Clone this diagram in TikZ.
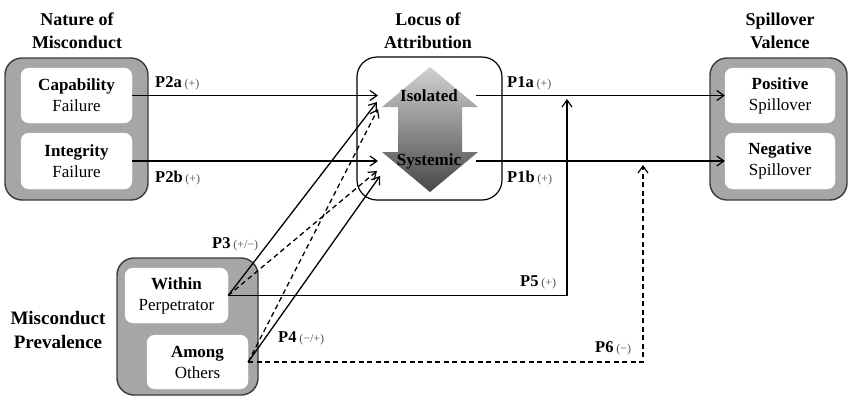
\documentclass[tikz,border=0pt]{standalone}
\usepackage{fontspec}
\setmainfont{Liberation Serif}
\usetikzlibrary{arrows.meta}
\definecolor{grpfill}{HTML}{A6A6A6}
\definecolor{grpdraw}{HTML}{3A3A3A}
\definecolor{labgray}{HTML}{555555}
\newcommand{\lab}[2]{\textbf{#1}\,{\fontsize{12}{12}\selectfont\color{labgray}#2}}
\tikzset{
  grp/.style={draw=grpdraw, fill=grpfill, line width=1.4pt, rounded corners=17pt, inner sep=0pt},
  inbox/.style={fill=white, draw=white, rounded corners=8pt, inner sep=0pt, align=center,
     font=\fontsize{17}{21}\selectfont},
  ttl/.style={align=center, font=\fontsize{18}{23.5}\selectfont\bfseries},
  conn/.style={line width=1.3pt, -{Straight Barb[length=7pt,width=10pt,line width=1.2pt]}},
  dconn/.style={conn, dash pattern=on 5pt off 3.5pt},
  plab/.style={anchor=west, inner sep=0pt, font=\fontsize{16.5}{18}\selectfont}
}
\begin{document}
\begin{tikzpicture}[x=1pt,y=-1pt]
\useasboundingbox (0,0) rectangle (848,397);
% titles
\node[ttl] (t1) at (77,31) {Nature of\\Misconduct};
\node[ttl] (t2) at (428,31) {Locus of\\Attribution};
\node[ttl] (t3) at (780,31) {Spillover\\Valence};
\node[ttl, font=\fontsize{19}{24}\selectfont\bfseries] (t4) at (58,330) {Misconduct\\Prevalence};
% groups
\node[grp, minimum width=143pt, minimum height=142pt] (nat) at (76.5,129) {};
\node[inbox, minimum width=111pt, minimum height=55pt] (cap) at (76.5,95.5) {\textbf{Capability}\\Failure};
\node[inbox, minimum width=111pt, minimum height=56pt] (int) at (76.5,161) {\textbf{Integrity}\\Failure};
\node[grp, minimum width=137pt, minimum height=142pt] (val) at (778.5,129) {};
\node[inbox, minimum width=110pt, minimum height=55pt] (pos) at (780,95.5) {\textbf{Positive}\\Spillover};
\node[inbox, minimum width=110pt, minimum height=56pt] (neg) at (780,161) {\textbf{Negative}\\Spillover};
\node[grp, minimum width=141pt, minimum height=137pt] (prev) at (187.5,326.5) {};
\node[inbox, minimum width=103pt, minimum height=55pt] (within) at (176.5,295.5) {\textbf{Within}\\Perpetrator};
\node[inbox, minimum width=101pt, minimum height=54pt] (among) at (197.5,362) {\textbf{Among}\\Others};
% locus box
\node[draw=black, fill=white, line width=1.2pt, rounded corners=20pt, minimum width=145pt, minimum height=143pt, inner sep=0pt] (loc) at (429.5,128.5) {};
\shade[top color=black!18, bottom color=black!72]
  (430,67) -- (478,107) -- (462,107) -- (462,152) -- (478,152) -- (430,192)
  -- (382,152) -- (398,152) -- (398,107) -- (382,107) -- cycle;
\node[font=\fontsize{17}{20}\selectfont\bfseries, inner sep=0pt] (iso) at (429,96) {Isolated};
\node[font=\fontsize{17}{20}\selectfont\bfseries, inner sep=0pt] (sys) at (429,161) {Systemic};
% coordinates
\coordinate (isoA) at (378,95.5);
\coordinate (sysA) at (378,161);
\coordinate (isoB) at (377,102);
\coordinate (sysB) at (377,171);
\coordinate (isoC) at (378,109);
\coordinate (sysC) at (380,176);
\coordinate (isoOut) at (476,95.5);
\coordinate (sysOut) at (476,161);
\coordinate (p5c) at (567,295.5);
\coordinate (p5t) at (567,99);
\coordinate (p6c) at (643,362);
\coordinate (p6t) at (643,165);
% connectors
\draw[conn] (cap.east) -- (isoA);
\draw[conn] (int.east) -- (sysA);
\draw[conn] (isoOut) -- (pos.west);
\draw[conn] (sysOut) -- (neg.west);
\draw[conn] (within.east) -- (isoB);
\draw[dconn] (within.east) -- (sysB);
\draw[dconn] (among.east) -- (isoC);
\draw[conn] (among.east) -- (sysC);
\draw[conn] (within.east) -- (p5c) -- (p5t);
\draw[dconn] (among.east) -- (p6c) -- (p6t);
% labels
\node[plab] (l2a) at (155,83) {\lab{P2a}{(+)}};
\node[plab] (l2b) at (155,178) {\lab{P2b}{(+)}};
\node[plab] (l1a) at (507,83) {\lab{P1a}{(+)}};
\node[plab] (l1b) at (507,178) {\lab{P1b}{(+)}};
\node[plab] (l3) at (212,244) {\lab{P3}{(+/−)}};
\node[plab] (l4) at (278,338) {\lab{P4}{(−/+)}};
\node[plab] (l5) at (520,282) {\lab{P5}{(+)}};
\node[plab] (l6) at (595,348) {\lab{P6}{(−)}};
\end{tikzpicture}
\end{document}
